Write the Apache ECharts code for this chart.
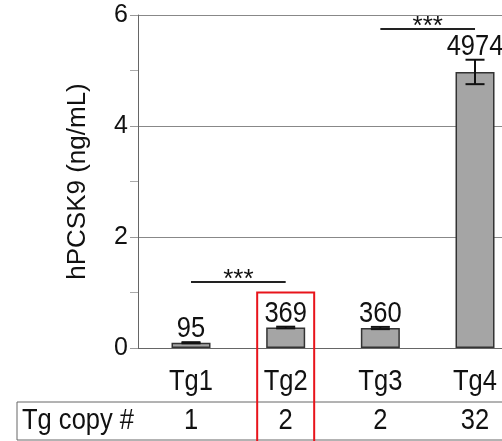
<!DOCTYPE html>
<html>
<head>
<meta charset="utf-8">
<script src="https://cdn.jsdelivr.net/npm/echarts@6/dist/echarts.min.js"></script>
<style>
  html, body { margin: 0; padding: 0; background: #fff; }
  #chart { width: 502px; height: 441px; }
</style>
</head>
<body>
<div id="chart"></div>
<script>
// hPCSK9 plasma levels per transgenic line
const categories = ['Tg1', 'Tg2', 'Tg3', 'Tg4'];
const valuesPg = [95, 369, 360, 4974];          // pg/mL, printed above each bar
const errorsNg = [0.01, 0.015, 0.02, 0.22];      // error bar half-length, ng/mL
const copyNumbers = ['1', '2', '2', '32'];
const tableHeader = 'Tg copy #';
const sigPairs = [[0, 1], [2, 3]];
const sigLabel = '***';
const highlighted = 1;

const valuesNg = valuesPg.map(v => v / 1000);

const FONT = "'Liberation Sans', Arial, sans-serif";
const INK = '#111';
const SX = 0.88;   // horizontal squeeze for the tall annotation text

const chart = echarts.init(document.getElementById('chart'), null, { renderer: 'canvas' });

chart.setOption({
  animation: false,
  backgroundColor: '#fff',
  grid: { left: 138, right: 0, top: 15, bottom: 93 },
  xAxis: {
    type: 'value', min: -0.56, max: 3.285,
    axisLine: { show: true, onZero: true, lineStyle: { color: '#666', width: 1 } },
    axisTick: { show: false }, axisLabel: { show: false }, splitLine: { show: false }
  },
  yAxis: {
    type: 'value', min: 0, max: 6, interval: 2,
    axisLine: { show: true, onZero: false, lineStyle: { color: '#666', width: 1 } },
    axisTick: { show: true, length: 8, lineStyle: { color: '#999' } },
    minorTick: { show: true, splitNumber: 2, length: 8, lineStyle: { color: '#aaa' } },
    splitLine: { show: true, lineStyle: { color: '#888', width: 1 } },
    axisLabel: { fontSize: 25, fontFamily: FONT, color: INK, margin: 10 },
    name: 'hPCSK9 (ng/mL)', nameLocation: 'middle', nameRotate: 90, nameGap: 47,
    nameTextStyle: { fontSize: 26, fontFamily: FONT, color: INK }
  },
  series: [
    {
      type: 'bar',
      data: valuesNg.map((v, i) => [i, v]),
      barWidth: 39,
      itemStyle: { color: '#a5a5a5', borderColor: '#333', borderWidth: 1.5 },
      z: 2
    },
    {
      // error bars with the value printed above
      type: 'custom',
      clip: false,
      z: 3,
      data: valuesNg.map((v, i) => [i, v, errorsNg[i], valuesPg[i]]),
      renderItem(params, api) {
        const i = api.value(0), v = api.value(1), e = api.value(2);
        const top = api.coord([i, v + e]);
        const bot = api.coord([i, Math.max(0, v - e)]);
        const hw = 9.5;
        const st = { stroke: INK, lineWidth: 2 };
        return {
          type: 'group',
          children: [
            { type: 'line', shape: { x1: top[0], y1: top[1], x2: bot[0], y2: bot[1] }, style: st },
            { type: 'line', shape: { x1: top[0] - hw, y1: top[1], x2: top[0] + hw, y2: top[1] }, style: st },
            { type: 'line', shape: { x1: bot[0] - hw, y1: bot[1], x2: bot[0] + hw, y2: bot[1] }, style: st },
            {
              type: 'text', x: top[0], y: top[1] - 13, scaleX: SX,
              style: { text: String(api.value(3)), textAlign: 'center', textVerticalAlign: 'middle',
                       font: '29px ' + FONT, fill: INK }
            }
          ]
        };
      }
    }
  ]
});

// annotations placed through the chart's coordinate system
function px(i, y) { return chart.convertToPixel({ gridIndex: 0 }, [i, y]); }
function label(text, x, y, align, size) {
  return { type: 'text', x, y, scaleX: SX,
           style: { text, textAlign: align, textVerticalAlign: 'middle', font: size + 'px ' + FONT, fill: INK } };
}

const g = [];
const W = 502;

// category names under the axis
categories.forEach((c, i) => g.push(label(c, px(i, 0)[0], 382, 'center', 29)));

// copy-number row
g.push({ type: 'rect', shape: { x: 17, y: 402, width: W + 10, height: 38 },
         style: { fill: 'none', stroke: '#666', lineWidth: 1 } });
g.push(label(tableHeader, 22, 421, 'left', 29));
copyNumbers.forEach((n, i) => g.push(label(n, px(i, 0)[0], 421, 'center', 29)));

// significance brackets
const sigHeights = [1.19, 5.75];
sigPairs.forEach(([a, b], k) => {
  const pa = px(a, sigHeights[k]), pb = px(b, sigHeights[k]);
  g.push({ type: 'line', shape: { x1: pa[0], y1: pa[1], x2: pb[0], y2: pb[1] },
           style: { stroke: '#222', lineWidth: 2 } });
  g.push({ type: 'text', x: (pa[0] + pb[0]) / 2, y: pa[1] - 2,
           style: { text: sigLabel, textAlign: 'center', textVerticalAlign: 'middle', font: '26px ' + FONT, fill: INK } });
});

// highlight box around one transgenic line
const hc = px(highlighted, 1.0);
g.push({ type: 'rect', z: 10, shape: { x: hc[0] - 28.5, y: hc[1], width: 57, height: 441 - hc[1] + 5 },
         style: { fill: 'none', stroke: '#e8141b', lineWidth: 2 } });

chart.setOption({ graphic: { elements: g } });
</script>
</body>
</html>
